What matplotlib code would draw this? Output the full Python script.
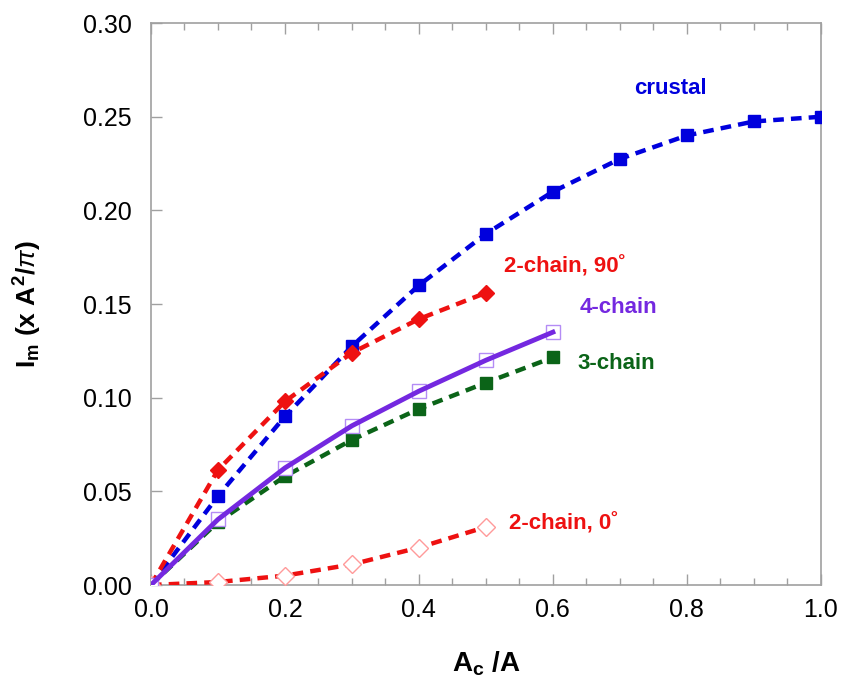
import matplotlib
matplotlib.use("Agg")
import matplotlib.pyplot as plt
import numpy as np
from matplotlib.ticker import MultipleLocator, FormatStrFormatter

plt.rcParams["font.family"] = ["Liberation Sans", "DejaVu Sans"]
plt.rcParams["mathtext.fontset"] = "custom"
plt.rcParams["mathtext.rm"] = "Liberation Sans"
plt.rcParams["mathtext.bf"] = "Liberation Sans:bold"
plt.rcParams["mathtext.it"] = "Liberation Sans:italic"

# area fraction A_c/A
x_crustal = [0.0, 0.1, 0.2, 0.3, 0.4, 0.5, 0.6, 0.7, 0.8, 0.9, 1.0]
y_crustal = [0.0, 0.0475, 0.09, 0.1275, 0.16, 0.1875, 0.21, 0.2275, 0.24, 0.2475, 0.25]

x_2c90 = [0.0, 0.1, 0.2, 0.3, 0.4, 0.5]
y_2c90 = [0.0, 0.0614, 0.098, 0.124, 0.142, 0.156]

x_4c = [0.0, 0.1, 0.2, 0.3, 0.4, 0.5, 0.6]
y_4c = [0.0, 0.035, 0.0625, 0.085, 0.1035, 0.12, 0.135]

x_3c = [0.0, 0.1, 0.2, 0.3, 0.4, 0.5, 0.6]
y_3c = [0.0, 0.0336, 0.058, 0.0775, 0.094, 0.108, 0.1215]

x_2c0 = [0.0, 0.1, 0.2, 0.3, 0.4, 0.5]
y_2c0 = [0.0, 0.0016, 0.005, 0.011, 0.020, 0.031]

BLUE = "#0000dd"
RED = "#ee1111"
GREEN = "#0b6418"
PURPLE = "#7428e0"

fig = plt.figure(figsize=(8.41, 6.80), dpi=100)
ax = fig.add_axes([0.1795, 0.1397, 0.7965, 0.8263])

dash = dict(ls="--", lw=3.2, dashes=(2.4, 1.6))
ax.plot(x_crustal, y_crustal, color=BLUE, marker="s", ms=9, mfc=BLUE, mec=BLUE, zorder=3, **dash)
ax.plot(x_2c90, y_2c90, color=RED, marker="D", ms=8.5, mfc=RED, mec=RED, zorder=3, **dash)
ax.plot(x_3c, y_3c, color=GREEN, marker="s", ms=9, mfc=GREEN, mec=GREEN, zorder=3, **dash)
ax.plot(x_2c0, y_2c0, color=RED, zorder=3, **dash)
ax.plot(x_2c0, y_2c0, "D", ms=9, mfc="white", mec="#ff9a9a", mew=1.0, zorder=4)
ax.plot(x_4c, y_4c, "s", ms=10, mfc="white", mec="#b48cf5", mew=1.0, zorder=4)
ax.plot(x_4c, y_4c, "-", color=PURPLE, lw=3.5, zorder=5)

label_kw = dict(fontsize=16, fontweight="bold", ha="left", va="center")
ax.text(0.722, 0.265, "crustal", color=BLUE, **label_kw)
ax.text(0.527, 0.170, "2-chain, 90˚", color=RED, **label_kw)
ax.text(0.640, 0.148, "4-chain", color=PURPLE, **label_kw)
ax.text(0.637, 0.1185, "3-chain", color=GREEN, **label_kw)
ax.text(0.535, 0.0325, "2-chain, 0˚", color=RED, **label_kw)

ax.set_xlim(0.0, 1.0)
ax.set_ylim(0.0, 0.30)
ax.xaxis.set_major_locator(MultipleLocator(0.2))
ax.xaxis.set_minor_locator(MultipleLocator(0.05))
ax.yaxis.set_major_locator(MultipleLocator(0.05))
ax.xaxis.set_major_formatter(FormatStrFormatter("%.1f"))
ax.yaxis.set_major_formatter(FormatStrFormatter("%.2f"))

for side in ax.spines.values():
    side.set_color("#a0a0a0")
    side.set_linewidth(1.2)
ax.tick_params(which="both", direction="in", top=True, right=False,
               color="#a0a0a0", labelsize=18, width=1.0)
ax.tick_params(which="major", length=8)
ax.tick_params(axis="y", which="major", pad=14)
ax.tick_params(axis="x", which="major", pad=9)
ax.tick_params(which="minor", length=5)

ax.set_xlabel(r"$\mathbf{A_c\ /A}$", fontsize=20, labelpad=20)
ax.set_ylabel(r"$\mathbf{I_m\ (x\ A^2/}\pi\mathbf{)}$", fontsize=19, labelpad=28)

fig.savefig("out.png", dpi=100)
